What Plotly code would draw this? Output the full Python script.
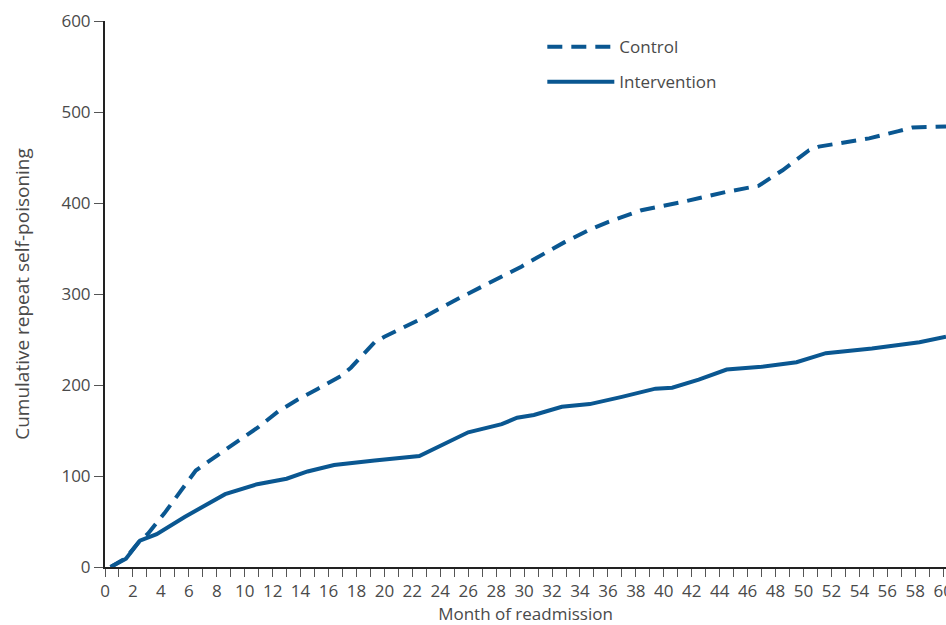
import plotly.graph_objects as go

# Control (dashed)
control_month = [0.4, 1.5, 2.5, 3.1, 4.25, 5.2, 6.5, 7.6, 9.3, 11.0, 12.4, 13.8, 15.25, 16.9,
                 17.6, 19.3, 20.0, 22.4, 25.3, 28.1, 29.8, 31.5, 32.9, 34.6, 36.0, 38.4,
                 41.3, 44.4, 46.1, 46.8, 48.5, 50.4, 51.1, 54.7, 56.8, 57.8, 60.2]
control_value = [0, 10, 29, 37, 59, 79, 106, 118, 136, 154, 171, 184, 196, 210,
                 219, 247, 253, 271, 295, 317, 330, 345, 357, 370, 379, 392,
                 401, 412, 417, 419, 436, 458, 462, 471, 479, 483, 484]

# Intervention (solid)
interv_month = [0.4, 1.5, 2.5, 3.7, 5.7, 8.6, 10.9, 13.0, 14.5, 16.4, 19.3, 22.5, 26.0,
                28.4, 29.5, 30.7, 32.7, 34.7, 37.0, 39.4, 40.6, 42.5, 44.5, 47.0, 49.5,
                51.6, 54.9, 58.3, 60.2]
interv_value = [0, 9, 29, 36, 55, 80, 91, 97, 105, 112, 117, 122, 148,
                157, 164, 167, 176, 179, 187, 196, 197, 206, 217, 220, 225,
                235, 240, 247, 253]

x_ticks = list(range(0, 61, 2))
y_ticks = list(range(0, 601, 100))

COLOR = "#0a5791"
TEXT = "#4a4a4a"
FONT = "Open Sans"

fig = go.Figure()
fig.add_trace(go.Scatter(x=control_month, y=control_value, mode="lines", name="Control",
                         legendgroup="c",
                         line=dict(color=COLOR, width=4, dash="15px,9px")))
fig.add_trace(go.Scatter(x=interv_month, y=interv_value, mode="lines", name="Intervention",
                         legendgroup="i",
                         line=dict(color=COLOR, width=4)))

fig.update_layout(
    width=946, height=625,
    margin=dict(l=105, r=0, t=21, b=58, autoexpand=False),
    paper_bgcolor="white", plot_bgcolor="white",
    font=dict(family=FONT, size=17, color=TEXT),
    showlegend=True,
    legend=dict(x=0.52, y=0.985, xanchor="left", yanchor="top",
                bgcolor="rgba(0,0,0,0)", itemwidth=67, tracegroupgap=10,
                font=dict(family=FONT, size=17, color=TEXT)),
    xaxis=dict(range=[0, 60.2], tickvals=x_ticks, ticktext=[str(v) for v in x_ticks],
               automargin=False, ticklabeloverflow="allow",
               showgrid=False, zeroline=False, showline=True, linecolor="#222222", linewidth=2,
               ticks="outside", ticklen=8, tickcolor="#555555", tickwidth=1,
               minor=dict(dtick=1, tick0=0, ticks="outside", ticklen=8, tickcolor="#555555", tickwidth=1),
               tickfont=dict(size=17, color=TEXT),
               title=dict(text="Month of readmission", font=dict(size=17, color=TEXT), standoff=2)),
    yaxis=dict(range=[0, 600], tickvals=y_ticks, ticktext=[str(v) for v in y_ticks],
               automargin=False,
               showgrid=False, zeroline=False, showline=True, linecolor="#222222", linewidth=2,
               ticks="outside", ticklen=9, tickcolor="#555555", tickwidth=1,
               tickfont=dict(size=17, color=TEXT),
               title=dict(text="Cumulative repeat self-poisoning", font=dict(size=19, color=TEXT), standoff=27)),
)

fig.write_html("out.html", config={"displayModeBar": False},
               post_script="document.body.style.margin='0px';")
